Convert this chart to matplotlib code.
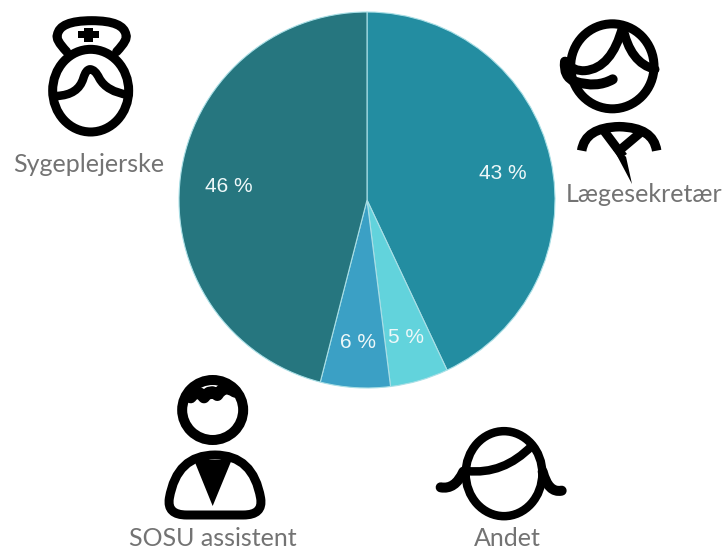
# Fordeling af faggrupper - pie with hand drawn person icons
import matplotlib
matplotlib.use("Agg")
import matplotlib.pyplot as plt
from matplotlib.patches import Ellipse, PathPatch, Polygon
from matplotlib.path import Path

# Data
values = [43, 5, 6, 46]
colors = ["#238da1", "#62d3dc", "#3ba0c5", "#26767f"]
names = ["Sygeplejerske", "Lægesekretær", "SOSU assistent", "Andet"]

W, H = 728, 551
fig = plt.figure(figsize=(W / 100, H / 100), dpi=100, facecolor="white")

# Pie: centre (367, 200), radius 188 px
ax = fig.add_axes([(367 - 189) / W, 1 - (200 + 189) / H, 378 / W, 378 / H])
wedges, texts, pcts = ax.pie(values, colors=colors, startangle=90, counterclock=False, radius=188 / 189,
                             autopct="%.0f %%", pctdistance=0.74,
                             wedgeprops={"edgecolor": "#a9dfe6", "linewidth": 0.8},
                             textprops={"color": "#eef8f9", "fontsize": 15, "family": "Liberation Sans"})
for t in pcts:
    x, y = t.get_position()
    t.set_position((x, y - 0.02))
ax.set_xlim(-1, 1)
ax.set_ylim(-1, 1)

# Overlay in pixel coordinates for the icons and names
ov = fig.add_axes([0, 0, 1, 1])
ov.set_xlim(0, W)
ov.set_ylim(H, 0)
ov.axis("off")
ov.patch.set_alpha(0)


def curve(pts, ox, oy, lw, closed=False, cap="round"):
    # pts: start point then pairs (control, end), given in 3x zoom coordinates
    xy = [(ox + x / 3, oy + y / 3) for x, y in pts]
    codes = [Path.MOVETO] + [Path.CURVE3] * (len(xy) - 1)
    if closed:
        xy.append(xy[0])
        codes.append(Path.CLOSEPOLY)
    ov.add_patch(PathPatch(Path(xy, codes), fc="none", ec="black",
                           lw=lw * 0.72, capstyle=cap, joinstyle="round"))


def ring(cx, cy, w, h, ox, oy, lw):
    ov.add_patch(Ellipse((ox + cx / 3, oy + cy / 3), w / 3, h / 3, fc="none", ec="black", lw=lw * 0.72))


# Sygeplejerske
ring(272, 272, 228, 248, 0, 0, 9)
curve([(170, 288), (235, 285), (250, 235), (258, 208), (270, 208),
       (285, 208), (298, 235), (320, 275), (385, 285)], 0, 0, 8.5)
curve([(200, 155), (165, 118), (172, 105), (178, 62), (275, 62),
       (372, 62), (378, 105), (385, 118), (350, 155)], 0, 0, 9)
ov.add_patch(Polygon([(x / 3, y / 3) for x, y in
                      [(252, 84), (280, 84), (280, 92), (298, 92), (298, 114), (280, 114),
                       (280, 125), (252, 125), (252, 114), (235, 114), (235, 92), (252, 92)]],
                     fc="black", ec="none"))

# Lægesekretær
ring(217, 199, 250, 255, 540, 0, 9)
curve([(75, 185), (100, 215), (135, 212), (215, 205), (248, 80)], 540, 0, 9)
curve([(248, 80), (270, 190), (345, 208)], 540, 0, 9)
curve([(75, 185), (70, 230), (105, 245), (170, 265), (218, 238)], 540, 0, 10)
curve([(125, 452), (135, 382), (238, 380), (340, 382), (350, 452)], 540, 0, 9.5, cap="butt")
curve([(190, 390), (220, 430), (250, 470)], 540, 0, 9, cap="butt")
curve([(305, 395), (266, 428), (228, 460)], 540, 0, 9, cap="butt")
ov.add_patch(Polygon([(540 + x / 3, y / 3) for x, y in [(222, 450), (258, 470), (276, 552)]],
                     fc="black", ec="none"))

# SOSU assistent
ring(278, 150, 183, 180, 120, 360, 10)
curve([(212, 112), (232, 85), (252, 112), (272, 85), (292, 105),
       (312, 72), (345, 95)], 120, 360, 12)
curve([(200, 465), (140, 465), (148, 415), (170, 285), (285, 285),
       (400, 285), (422, 415), (430, 465), (370, 465)], 120, 360, 9, closed=True)
ov.add_patch(Polygon([(120 + x / 3, 360 + y / 3) for x, y in [(222, 300), (335, 300), (278, 438)]],
                     fc="black", ec="none"))

# Andet
ring(252, 191, 230, 255, 420, 410, 8.5)
curve([(140, 183), (250, 195), (335, 108)], 420, 410, 8.5)
curve([(62, 232), (105, 240), (130, 185)], 420, 410, 10)
curve([(425, 242), (385, 250), (368, 185)], 420, 410, 10)

# Names
name_pos = [(89, 164), (644, 195), (213, 539), (507, 539)]
for name, (x, y) in zip(names, name_pos):
    ov.text(x, y, name, ha="center", va="center", fontsize=18, color="#737373", family="Lato")

fig.savefig("out.png", dpi=100)
